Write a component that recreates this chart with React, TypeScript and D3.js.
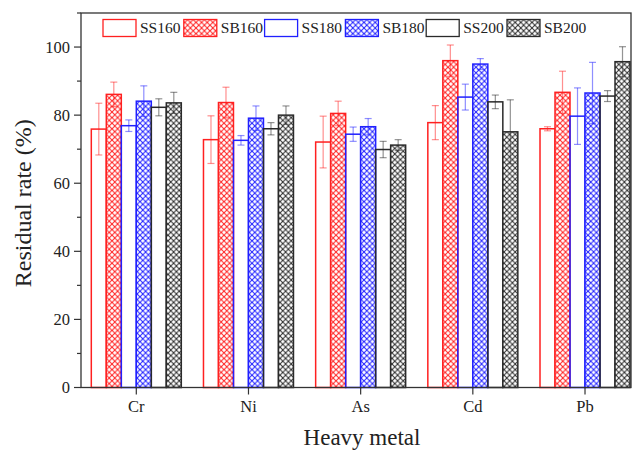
import React from "react";
import * as d3 from "d3";

const categories = ["Cr", "Ni", "As", "Cd", "Pb"];
const seriesNames = ["SS160", "SB160", "SS180", "SB180", "SS200", "SB200"];
const seriesColors = ["#ff2020", "#ff2020", "#2020ff", "#2020ff", "#2a2a2a", "#2a2a2a"];
const seriesHatched = [false, true, false, true, false, true];

const SS160 = [75.9, 72.8, 72.1, 77.8, 76.0];
const SB160 = [86.1, 83.7, 80.5, 96.0, 86.7];
const SS180 = [76.9, 72.6, 74.4, 85.3, 79.7];
const SB180 = [84.1, 79.1, 76.6, 95.0, 86.5];
const SS200 = [82.3, 76.0, 69.9, 83.9, 85.6];
const SB200 = [83.6, 80.0, 71.2, 75.1, 95.7];

const SS160err = [7.6, 7.0, 7.6, 5.0, 0.6];
const SB160err = [3.6, 4.5, 3.6, 4.6, 6.2];
const SS180err = [1.7, 1.4, 2.1, 3.8, 8.3];
const SB180err = [4.5, 3.6, 2.4, 1.6, 9.0];
const SS200err = [2.5, 1.8, 2.4, 2.0, 1.6];
const SB200err = [3.1, 2.7, 1.6, 9.4, 4.4];

const values = [SS160, SB160, SS180, SB180, SS200, SB200];
const errors = [SS160err, SB160err, SS180err, SB180err, SS200err, SB200err];

const yMajorTicks = [0, 20, 40, 60, 80, 100];
const yMinorTicks = [10, 30, 50, 70, 90, 110];

const W = 633;
const H = 450;
const L = 81;
const R = 631;
const T = 13;
const B = 387.5;
const FONT = "'Liberation Serif', 'Times New Roman', serif";

export default function App() {
  const x = d3.scaleLinear().domain([-0.493, 4.41]).range([L, R]);
  const y = d3.scaleLinear().domain([0, 110]).range([B, T]);
  const barW = 15;
  const P = 5.6;

  return (
    <svg width={W} height={H} style={{ position: "absolute", left: 0, top: 0 }} fontFamily={FONT}>
      <defs>
        {seriesColors.map((c, j) =>
          seriesHatched[j] ? (
            <pattern key={j} id={`hatch${j}`} patternUnits="userSpaceOnUse" width={P} height={P}>
              <rect width={P} height={P} fill="white" />
              <path d={`M0,0 L${P},${P} M0,${P} L${P},0`} stroke={c} strokeWidth={1.0} />
            </pattern>
          ) : null
        )}
      </defs>
      <rect x={0} y={0} width={W} height={H} fill="white" />

      {categories.map((cat, i) =>
        seriesNames.map((s, j) => {
          const v = values[j][i];
          const e = errors[j][i];
          const cx = x(i) + (j - 2.5) * barW;
          const c = seriesColors[j];
          return (
            <g key={`${i}-${j}`}>
              <rect
                x={cx - barW / 2}
                y={y(v)}
                width={barW}
                height={y(0) - y(v)}
                fill={seriesHatched[j] ? `url(#hatch${j})` : "none"}
                stroke={c}
                strokeWidth={1.5}
              />
              <g stroke={c} strokeOpacity={0.5} strokeWidth={1.2}>
                <line x1={cx} x2={cx} y1={y(v - e)} y2={y(v + e)} />
                <line x1={cx - 3.5} x2={cx + 3.5} y1={y(v - e)} y2={y(v - e)} />
                <line x1={cx - 3.5} x2={cx + 3.5} y1={y(v + e)} y2={y(v + e)} />
              </g>
            </g>
          );
        })
      )}

      {/* frame */}
      <rect x={L} y={T} width={R - L} height={B - T} fill="none" stroke="#333" strokeWidth={1.3} />

      {/* y ticks */}
      {yMajorTicks.map((t) => (
        <g key={t}>
          <line x1={L - 7} x2={L} y1={y(t)} y2={y(t)} stroke="#333" strokeWidth={1.2} />
          <text x={L - 11} y={y(t)} dy="0.35em" textAnchor="end" fontSize={16.5} fill="#222">
            {t}
          </text>
        </g>
      ))}
      {yMinorTicks.map((t) => (
        <line key={t} x1={L - 4} x2={L} y1={y(t)} y2={y(t)} stroke="#333" strokeWidth={1.2} />
      ))}

      {/* x ticks */}
      {categories.map((cat, i) => (
        <g key={cat}>
          <line x1={x(i)} x2={x(i)} y1={B} y2={B + 7} stroke="#333" strokeWidth={1.2} />
          <text x={x(i)} y={B + 24} textAnchor="middle" fontSize={16.5} fill="#222">
            {cat}
          </text>
        </g>
      ))}

      {/* axis titles */}
      <text x={(L + R) / 2 + 6} y={445} textAnchor="middle" fontSize={23} fill="#222">
        Heavy metal
      </text>
      <text
        transform={`translate(31, ${(T + B) / 2 + 3}) rotate(-90)`}
        textAnchor="middle"
        fontSize={24}
        fill="#222"
      >
        Residual rate (%)
      </text>

      {/* legend */}
      {seriesNames.map((s, j) => {
        const lx = 103 + j * 80.8;
        return (
          <g key={s}>
            <rect
              x={lx}
              y={19.5}
              width={33}
              height={17}
              fill={seriesHatched[j] ? `url(#hatch${j})` : "white"}
              stroke={seriesColors[j]}
              strokeWidth={1.3}
            />
            <text x={lx + 37} y={28} dy="0.35em" fontSize={15.5} fill="#222">
              {s}
            </text>
          </g>
        );
      })}
    </svg>
  );
}
